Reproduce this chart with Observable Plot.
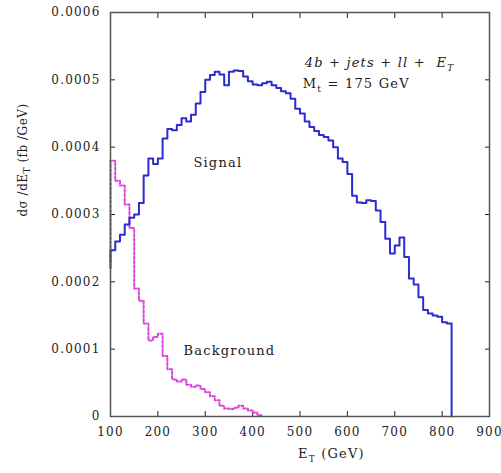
<!DOCTYPE html>
<html><head><meta charset="utf-8">
<script src="https://cdn.jsdelivr.net/npm/d3@7"></script>
<script src="https://cdn.jsdelivr.net/npm/@observablehq/plot@0.6"></script>
<style>
html,body{margin:0;padding:0;background:#fff;}
#chart svg{display:block;}
#chart svg text{letter-spacing:1.2px;}
#chart svg text.ylab{letter-spacing:0.5px;}
</style></head><body><div id="chart"></div>
<script>
// Signal histogram: bin left edges (GeV) and values (units of 1e-4 fb/GeV)
const signalE = [100,100,110,120,130,140,150,160,170,180,190,200,210,220,230,240,250,260,270,280,290,300,310,320,330,340,350,360,370,380,390,400,410,420,430,440,450,460,470,480,490,500,510,520,530,540,550,560,570,580,590,600,610,620,630,640,650,660,670,680,690,700,710,720,730,740,750,760,770,780,790,800,810,820];
const signalV = [2.2,2.47,2.60,2.70,2.85,2.95,3.00,3.17,3.58,3.83,3.75,3.83,4.13,4.27,4.25,4.33,4.43,4.38,4.48,4.65,4.82,5.00,5.07,5.12,5.08,4.92,5.12,5.14,5.13,5.05,4.98,4.93,4.92,4.95,4.97,4.92,4.88,4.83,4.80,4.72,4.57,4.50,4.38,4.30,4.24,4.18,4.15,4.10,4.00,3.83,3.78,3.60,3.28,3.18,3.17,3.21,3.20,3.06,2.89,2.64,2.42,2.54,2.66,2.37,2.05,1.96,1.77,1.58,1.53,1.50,1.48,1.40,1.38,0];
// Background histogram
const bgE = [100,100,110,120,130,140,150,160,170,180,190,200,210,220,230,240,250,260,270,280,290,300,310,320,330,340,350,360,370,380,390,400,410,420];
const bgV = [2.3,3.80,3.50,3.43,3.15,2.80,1.90,1.72,1.38,1.13,1.18,1.23,0.90,0.70,0.55,0.52,0.55,0.47,0.44,0.46,0.41,0.36,0.30,0.24,0.16,0.12,0.11,0.13,0.16,0.12,0.09,0.06,0.02,0];
const xTicks = [100,200,300,400,500,600,700,800,900];
const yTicks = [0,0.0001,0.0002,0.0003,0.0004,0.0005,0.0006];
const yTickLabels = ["0","0.0001","0.0002","0.0003","0.0004","0.0005","0.0006"];

const sig = signalE.map((e,i)=>({E:e, v:signalV[i]*1e-4}));
const bg = bgE.map((e,i)=>({E:e, v:bgV[i]*1e-4}));

const chart = Plot.plot({
  width: 501, height: 473,
  marginLeft: 110, marginRight: 12, marginTop: 12, marginBottom: 57,
  x: {domain: [100, 900]},
  y: {domain: [0, 0.0006]},
  style: {fontFamily: "'DejaVu Serif', serif", fontSize: "12px", color: "#222", background: "#fff"},
  marks: [
    Plot.axisX(xTicks, {anchor: "bottom", tickSize: -5, tickPadding: 16, label: null, tickFormat: d => String(d), fontSize: 12}),
    Plot.axisX(xTicks, {anchor: "top", tickSize: -5, tickFormat: () => "", label: null}),
    Plot.axisY(yTicks, {anchor: "left", tickSize: -5, tickPadding: 15, label: null, tickFormat: d => yTickLabels[yTicks.indexOf(d)], fontSize: 12}),
    Plot.axisY(yTicks, {anchor: "right", tickSize: -5, tickFormat: () => "", label: null}),
    Plot.line(bg, {x: "E", y: "v", curve: "step-after", stroke: "#dd44dd", strokeWidth: 2, strokeDasharray: "2.5,2"}),
    Plot.line(sig, {x: "E", y: "v", curve: "step-after", stroke: "#2b2bd0", strokeWidth: 2}),
    Plot.frame({stroke: "#555", strokeWidth: 1.5}),
    Plot.text(["Signal"], {x: 275, y: 0.000377, text: d => d, textAnchor: "start", fontSize: 13, fill: "#222"}),
    Plot.text(["Background"], {x: 254, y: 0.000098, text: d => d, textAnchor: "start", fontSize: 13, fill: "#222"})
  ]
});
document.getElementById("chart").appendChild(chart);

const sx = chart.scale("x"), sy = chart.scale("y");
const svg = d3.select(chart);
const ann = svg.append("g").attr("font-family", "'DejaVu Serif', serif").attr("fill", "#222").attr("text-anchor", "start");

// y axis label
const yl = ann.append("text").attr("class", "ylab").attr("transform", "translate(27,160) rotate(-90)")
  .attr("text-anchor", "middle").attr("font-size", 12);
yl.append("tspan").text("dσ /dE");
yl.append("tspan").attr("dy", 3).attr("font-size", 9).text("T");
yl.append("tspan").attr("dy", -3).text(" (fb /GeV)");

// x axis label
const xl = ann.append("text").attr("x", 298).attr("y", 458).attr("font-size", 13);
xl.append("tspan").text("E");
xl.append("tspan").attr("dy", 4).attr("font-size", 9).text("T");
xl.append("tspan").attr("dy", -4).text(" (GeV)");

// process annotation
const a1 = ann.append("text").attr("x", sx.apply(511)).attr("y", sy.apply(0.000518)).attr("font-size", 13).attr("font-style", "italic");
a1.append("tspan").text("4b + jets + ll +  E");
a1.append("tspan").attr("dy", 4).attr("font-size", 9).text("T");
const a2 = ann.append("text").attr("x", sx.apply(507)).attr("y", sy.apply(0.000487)).attr("font-size", 13);
a2.append("tspan").text("M");
a2.append("tspan").attr("dy", 4).attr("font-size", 9).text("t");
a2.append("tspan").attr("dy", -4).text(" = 175 GeV");
</script>
</body></html>
